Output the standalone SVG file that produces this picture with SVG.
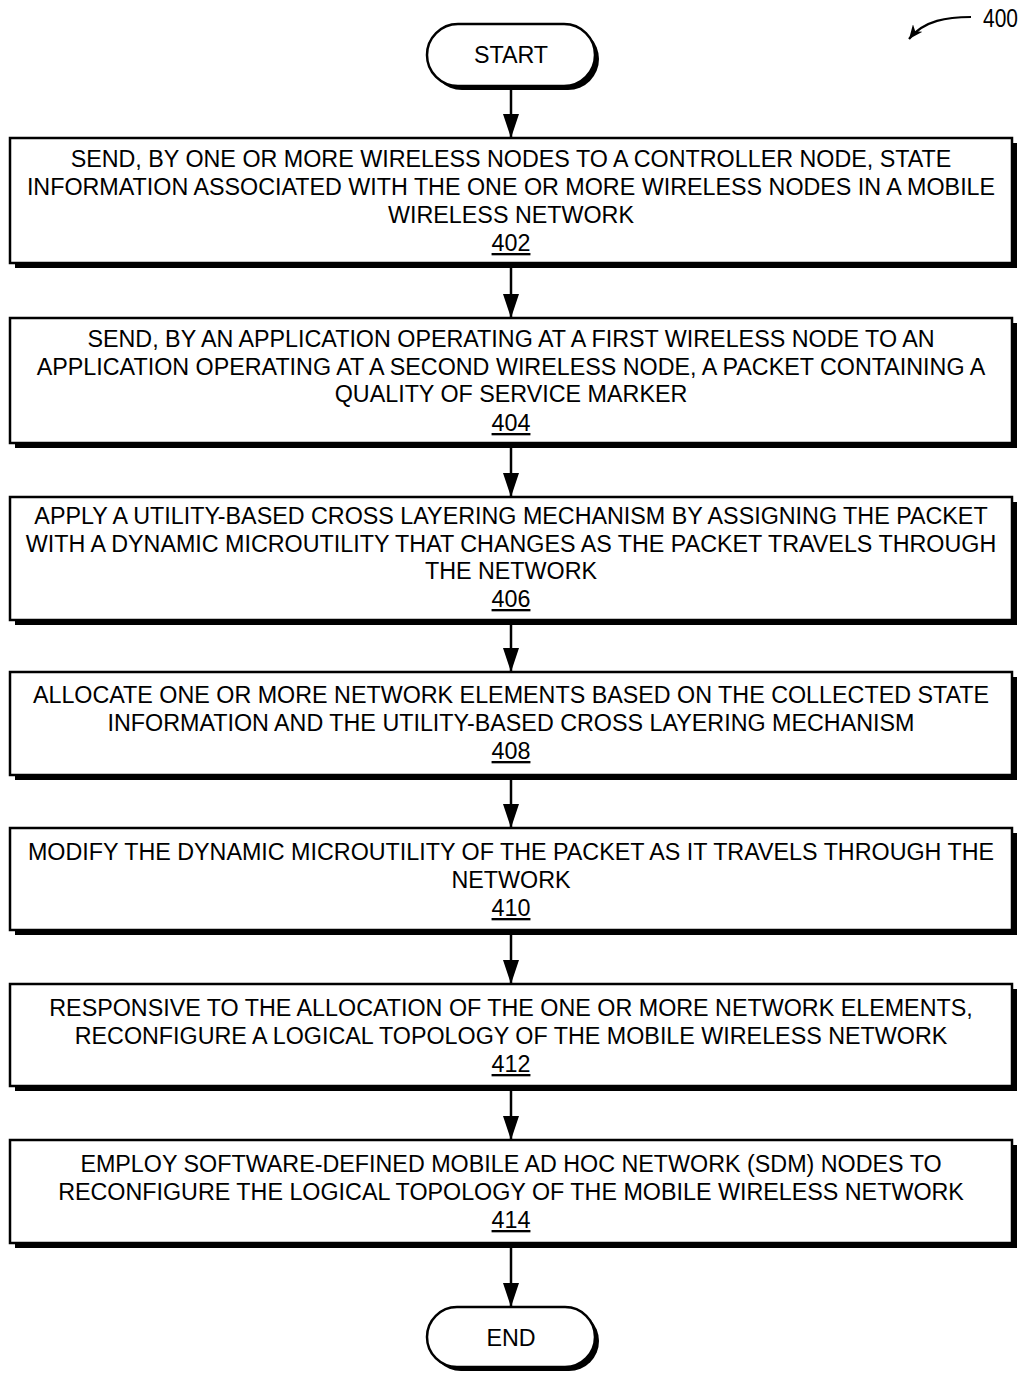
<svg xmlns="http://www.w3.org/2000/svg" width="1024" height="1374" viewBox="0 0 1024 1374">
  <style>
    text { font-family: "Liberation Sans", Arial, sans-serif; font-size: 23.3px; fill: #000; text-anchor: middle; }
    .num { text-decoration: underline; }
    .box { fill: #fff; stroke: #000; stroke-width: 2.5; }
    .shadow { fill: #000; }
    .conn { stroke: #000; stroke-width: 2.5; fill: none; }
    .ref { font-size: 25px; text-anchor: start; }
  </style>
  <defs>
    <marker id="arrow" viewBox="0 0 24 16" refX="24" refY="8" markerWidth="24" markerHeight="16" markerUnits="userSpaceOnUse" orient="auto">
      <path d="M0,0 L24,8 L0,16 Z" fill="#000"/>
    </marker>
    <marker id="refArrow" viewBox="0 0 14 12" refX="14" refY="6" markerWidth="14" markerHeight="12" markerUnits="userSpaceOnUse" orient="auto">
      <path d="M0,0 L14,6 L0,12 L4,6 Z" fill="#000"/>
    </marker>
  </defs>

  <!-- figure reference -->
  <g id="ref400">
    <text class="ref" x="983" y="27" textLength="35" lengthAdjust="spacingAndGlyphs">400</text>
    <path d="M971,17 C948,17 924,20 909,39" fill="none" stroke="#000" stroke-width="2.2" marker-end="url(#refArrow)"/>
  </g>

  <g id="start">
    <rect class="shadow" x="431" y="28" width="168" height="62" rx="31"/>
    <rect class="box" x="427" y="24" width="168" height="62" rx="31"/>
    <text x="511" y="63">START</text>
  </g>

  <g id="step402">
    <rect class="shadow" x="15" y="143" width="1002" height="125"/>
    <rect class="box" x="10" y="138" width="1002" height="125"/>
    <text x="511" y="167">SEND, BY ONE OR MORE WIRELESS NODES TO A CONTROLLER NODE, STATE</text>
    <text x="511" y="195">INFORMATION ASSOCIATED WITH THE ONE OR MORE WIRELESS NODES IN A MOBILE</text>
    <text x="511" y="223">WIRELESS NETWORK</text>
    <text class="num" x="511" y="251">402</text>
  </g>

  <g id="step404">
    <rect class="shadow" x="15" y="323" width="1002" height="125"/>
    <rect class="box" x="10" y="318" width="1002" height="125"/>
    <text x="511" y="347">SEND, BY AN APPLICATION OPERATING AT A FIRST WIRELESS NODE TO AN</text>
    <text x="511" y="375">APPLICATION OPERATING AT A SECOND WIRELESS NODE, A PACKET CONTAINING A</text>
    <text x="511" y="402">QUALITY OF SERVICE MARKER</text>
    <text class="num" x="511" y="431">404</text>
  </g>

  <g id="step406">
    <rect class="shadow" x="15" y="502" width="1002" height="123"/>
    <rect class="box" x="10" y="497" width="1002" height="123"/>
    <text x="511" y="524">APPLY A UTILITY-BASED CROSS LAYERING MECHANISM BY ASSIGNING THE PACKET</text>
    <text x="511" y="552">WITH A DYNAMIC MICROUTILITY THAT CHANGES AS THE PACKET TRAVELS THROUGH</text>
    <text x="511" y="579">THE NETWORK</text>
    <text class="num" x="511" y="607">406</text>
  </g>

  <g id="step408">
    <rect class="shadow" x="15" y="677" width="1002" height="103"/>
    <rect class="box" x="10" y="672" width="1002" height="103"/>
    <text x="511" y="703">ALLOCATE ONE OR MORE NETWORK ELEMENTS BASED ON THE COLLECTED STATE</text>
    <text x="511" y="731">INFORMATION AND THE UTILITY-BASED CROSS LAYERING MECHANISM</text>
    <text class="num" x="511" y="759">408</text>
  </g>

  <g id="step410">
    <rect class="shadow" x="15" y="833" width="1002" height="102"/>
    <rect class="box" x="10" y="828" width="1002" height="102"/>
    <text x="511" y="860">MODIFY THE DYNAMIC MICROUTILITY OF THE PACKET AS IT TRAVELS THROUGH THE</text>
    <text x="511" y="888">NETWORK</text>
    <text class="num" x="511" y="916">410</text>
  </g>

  <g id="step412">
    <rect class="shadow" x="15" y="989" width="1002" height="102"/>
    <rect class="box" x="10" y="984" width="1002" height="102"/>
    <text x="511" y="1016">RESPONSIVE TO THE ALLOCATION OF THE ONE OR MORE NETWORK ELEMENTS,</text>
    <text x="511" y="1044">RECONFIGURE A LOGICAL TOPOLOGY OF THE MOBILE WIRELESS NETWORK</text>
    <text class="num" x="511" y="1072">412</text>
  </g>

  <g id="step414">
    <rect class="shadow" x="15" y="1145" width="1002" height="103"/>
    <rect class="box" x="10" y="1140" width="1002" height="103"/>
    <text x="511" y="1172">EMPLOY SOFTWARE-DEFINED MOBILE AD HOC NETWORK (SDM) NODES TO</text>
    <text x="511" y="1200">RECONFIGURE THE LOGICAL TOPOLOGY OF THE MOBILE WIRELESS NETWORK</text>
    <text class="num" x="511" y="1228">414</text>
  </g>

  <g id="end">
    <rect class="shadow" x="431" y="1311" width="168" height="60" rx="30"/>
    <rect class="box" x="427" y="1307" width="168" height="60" rx="30"/>
    <text x="511" y="1346">END</text>
  </g>

  <!-- flow connectors -->
  <g id="connectors">
    <line class="conn" x1="511" y1="90" x2="511" y2="138" marker-end="url(#arrow)"/>
    <line class="conn" x1="511" y1="268" x2="511" y2="318" marker-end="url(#arrow)"/>
    <line class="conn" x1="511" y1="448" x2="511" y2="497" marker-end="url(#arrow)"/>
    <line class="conn" x1="511" y1="625" x2="511" y2="672" marker-end="url(#arrow)"/>
    <line class="conn" x1="511" y1="780" x2="511" y2="828" marker-end="url(#arrow)"/>
    <line class="conn" x1="511" y1="935" x2="511" y2="984" marker-end="url(#arrow)"/>
    <line class="conn" x1="511" y1="1091" x2="511" y2="1140" marker-end="url(#arrow)"/>
    <line class="conn" x1="511" y1="1248" x2="511" y2="1307" marker-end="url(#arrow)"/>
  </g>
</svg>
